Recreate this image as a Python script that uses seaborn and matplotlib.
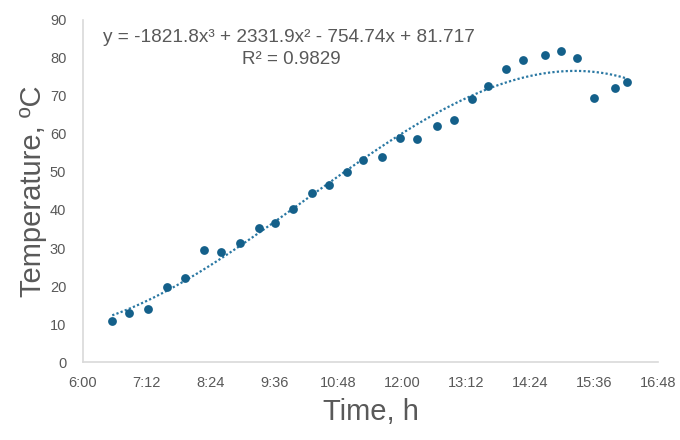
import matplotlib
matplotlib.use("Agg")
import matplotlib.pyplot as plt
import seaborn as sns
import pandas as pd

# readings, clock time and temperature
times = ["6:33", "6:52", "7:13", "7:35", "7:55", "8:16", "8:36", "8:57", "9:18", "9:36",
         "9:57", "10:18", "10:37", "10:57", "11:16", "11:37", "11:57", "12:16", "12:39", "12:58",
         "13:18", "13:36", "13:57", "14:16", "14:40", "14:58", "15:17", "15:36", "15:59", "16:13"]
temps = [10.8, 12.9, 13.9, 19.7, 22.1, 29.5, 28.9, 31.3, 35.3, 36.6,
         40.3, 44.5, 46.6, 50.0, 53.2, 53.9, 58.9, 58.7, 62.1, 63.7,
         69.2, 72.6, 77.1, 79.5, 80.8, 81.8, 80.0, 69.5, 72.1, 73.7]

tick_labels = ["6:00", "7:12", "8:24", "9:36", "10:48", "12:00", "13:12", "14:24", "15:36", "16:48"]
y_ticks = [0, 10, 20, 30, 40, 50, 60, 70, 80, 90]

eq_text = "y = -1821.8x³ + 2331.9x² - 754.74x + 81.717"
r2_text = "R² = 0.9829"


def day_fraction(t):
    h, m = t.split(":")
    return (int(h) + int(m) / 60.0) / 24.0


df = pd.DataFrame({"time": [day_fraction(t) for t in times], "temp": temps})
tick_pos = [day_fraction(t) for t in tick_labels]

sns.set_theme(style="white")
plt.rcParams["font.family"] = ["Liberation Sans", "DejaVu Sans"]

blue = "#14608a"
grey = "#595959"

fig = plt.figure(figsize=(6.8, 4.4), dpi=100)
ax = fig.add_axes([0.122, 0.177, 0.846, 0.778])

sns.regplot(data=df, x="time", y="temp", order=3, ci=None, ax=ax,
            scatter_kws={"s": 40, "color": blue, "alpha": 1, "linewidths": 0, "zorder": 3},
            line_kws={"color": "#2a78a3", "linestyle": (0, (1, 1)), "linewidth": 1.6})

ax.set_xlim(tick_pos[0], tick_pos[-1])
ax.set_ylim(0, 90)
ax.set_xticks(tick_pos)
ax.set_xticklabels(tick_labels)
ax.set_yticks(y_ticks)
ax.tick_params(axis="both", colors=grey, labelsize=10.5, length=0, pad=10)
ax.tick_params(axis="y", pad=12)

for s in ["top", "right"]:
    ax.spines[s].set_visible(False)
for s in ["left", "bottom"]:
    ax.spines[s].set_color("#d9d9d9")
    ax.spines[s].set_linewidth(1.2)

ax.set_xlabel("Time, h", fontsize=21, color=grey, labelpad=6)
ax.set_ylabel("Temperature, ºC", fontsize=21, color=grey, labelpad=2)
ax.grid(False)

ax.text(0.035, 0.947, eq_text, transform=ax.transAxes, fontsize=13.7, color=grey, va="center", ha="left")
ax.text(0.362, 0.883, r2_text, transform=ax.transAxes, fontsize=13.5, color=grey, va="center", ha="center")

fig.savefig("out.png", dpi=100)
